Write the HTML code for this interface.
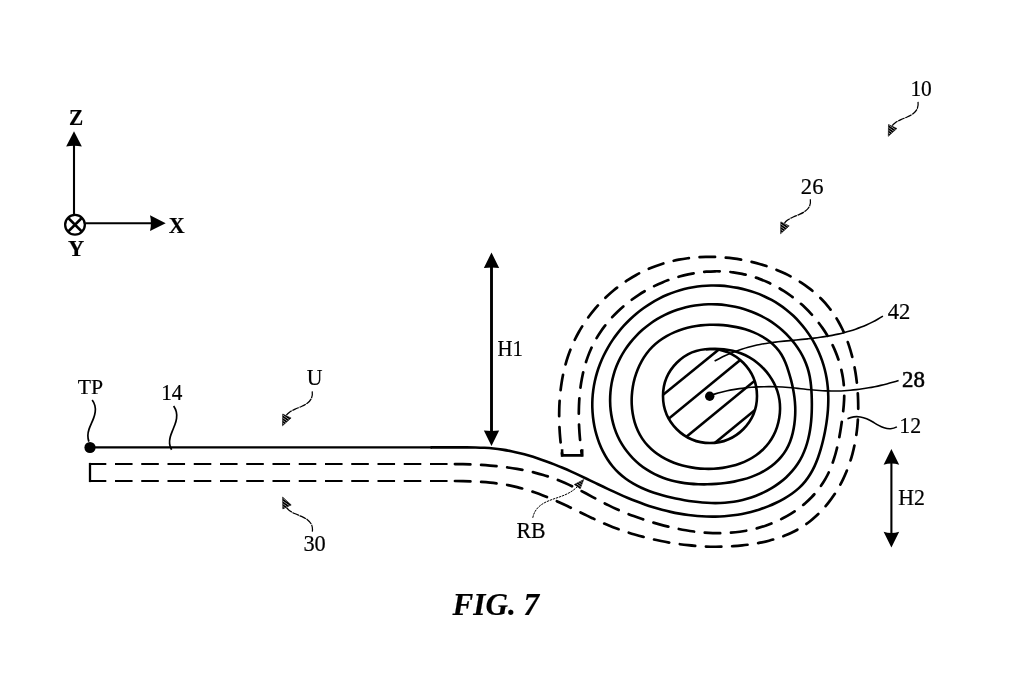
<!DOCTYPE html>
<html><head><meta charset="utf-8">
<style>
html,body{margin:0;padding:0;background:#fff;}
body{width:1017px;height:700px;overflow:hidden;}
svg{display:block;will-change:transform;}
text{font-family:"Liberation Serif",serif;fill:#000;stroke:#000;stroke-width:0.18px;}
.k{fill:none;stroke:#000;stroke-width:2.6;}
.ld{fill:none;stroke:#000;stroke-width:1.6;stroke-linecap:butt;}
.sq{fill:none;stroke:#000;stroke-width:1.5;}
.ds{fill:none;stroke:#000;stroke-width:2.05;stroke-dasharray:17.55 8.7;stroke-dashoffset:1.25;}
.dc{fill:none;stroke:#000;stroke-width:2.7;stroke-dasharray:15.45 10.75;stroke-dashoffset:-1;stroke-linecap:round;}
</style></head><body>
<svg width="1017" height="700" viewBox="0 0 1017 700">
<rect width="1017" height="700" fill="#fff"/>
<defs><clipPath id="cc"><circle cx="710" cy="396" r="47"/></clipPath>
<pattern id="ht" width="2.2" height="2.2" patternUnits="userSpaceOnUse" patternTransform="rotate(35)"><rect width="2.2" height="2.2" fill="#fff"/><rect width="2.2" height="1.75" fill="#000"/></pattern>
</defs>

<!-- axes -->
<line x1="74" y1="214" x2="74" y2="144" class="k" style="stroke-width:2.1"/>
<path d="M74.00 131.20 L81.85 146.60 Q74.00 145.00 66.15 146.60 Z" fill="#000"/>
<line x1="85.5" y1="223.25" x2="152" y2="223.25" class="k" style="stroke-width:2.1"/>
<path d="M165.70 223.20 L150.00 231.10 Q151.90 223.20 150.00 215.30 Z" fill="#000"/>
<circle cx="75" cy="224.75" r="9.85" class="k" style="stroke-width:2.3"/>
<path d="M68 217.75 L82 231.75 M82 217.75 L68 231.75" class="k" style="stroke-width:2.5"/>
<text transform="matrix(1.0395 0 0 1.0889 68.92 124.53)" style="font-size:20.5px;font-weight:bold;">Z</text>
<text transform="matrix(1.0717 0 0 1.0817 168.81 232.78)" style="font-size:20.5px;font-weight:bold;">X</text>
<text transform="matrix(1.0972 0 0 1.0889 67.91 255.78)" style="font-size:20.5px;font-weight:bold;">Y</text>
<!-- H1 -->
<line x1="491.5" y1="266" x2="491.5" y2="432" class="k" style="stroke-width:2.9"/>
<path d="M491.50 252.50 L499.15 267.90 Q491.50 267.00 483.85 267.90 Z" fill="#000"/>
<path d="M491.50 445.90 L483.85 430.50 Q491.50 431.40 499.15 430.50 Z" fill="#000"/>
<text transform="matrix(1.0148 0 0 1.0971 497.57 355.78)" style="font-size:20.5px;;">H1</text>
<!-- H2 -->
<line x1="891.4" y1="463" x2="891.4" y2="534" class="k" style="stroke-width:2.1"/>
<path d="M891.40 449.00 L899.20 464.80 Q891.40 462.40 883.60 464.80 Z" fill="#000"/>
<path d="M891.40 547.60 L883.60 531.80 Q891.40 534.20 899.20 531.80 Z" fill="#000"/>
<text transform="matrix(1.0655 0 0 1.1223 898.25 505.48)" style="font-size:20.5px;;">H2</text>
<!-- main -->
<path d="M90 447.4 L432 447.4" class="k" style="stroke-width:2.3"/>
<path d="M705.92 349.26C708.92 348.92 711.92 348.75 714.90 348.74C717.92 348.74 720.92 348.90 723.88 349.24C726.88 349.59 729.84 350.11 732.73 350.82C735.66 351.54 738.52 352.45 741.30 353.55C744.09 354.65 746.80 355.94 749.41 357.44C752.00 358.92 754.49 360.60 756.87 362.46C759.22 364.31 761.45 366.33 763.53 368.50C765.60 370.66 767.53 372.98 769.28 375.42C771.03 377.86 772.60 380.42 773.97 383.09C775.34 385.76 776.51 388.53 777.44 391.39C778.36 394.24 779.05 397.16 779.48 400.14C779.91 403.10 780.10 406.11 780.05 409.11C780.01 412.11 779.73 415.11 779.23 418.07C778.74 421.04 778.02 423.96 777.10 426.80C776.16 429.68 775.02 432.46 773.67 435.11C772.30 437.82 770.72 440.38 768.95 442.76C767.15 445.19 765.16 447.43 763.00 449.51C760.85 451.58 758.52 453.48 756.05 455.21C753.62 456.92 751.04 458.47 748.35 459.85C745.70 461.21 742.95 462.41 740.11 463.46C737.32 464.49 734.45 465.37 731.51 466.10C728.62 466.83 725.67 467.41 722.69 467.84C719.73 468.28 716.74 468.57 713.73 468.74C710.74 468.90 707.74 468.92 704.74 468.81C701.73 468.71 698.74 468.47 695.77 468.09C692.78 467.72 689.82 467.21 686.90 466.56C683.95 465.91 681.05 465.13 678.22 464.21C675.34 463.27 672.53 462.20 669.82 460.98C667.06 459.75 664.39 458.37 661.83 456.84C659.23 455.29 656.76 453.59 654.43 451.74C652.06 449.86 649.85 447.83 647.81 445.65C645.76 443.46 643.89 441.11 642.22 438.61C640.57 436.13 639.12 433.50 637.86 430.75C636.62 428.05 635.57 425.23 634.70 422.33C633.86 419.48 633.19 416.54 632.70 413.56C632.21 410.62 631.90 407.63 631.75 404.61C631.61 401.63 631.63 398.62 631.81 395.62C631.99 392.63 632.33 389.64 632.83 386.68C633.33 383.72 633.98 380.78 634.79 377.90C635.60 375.00 636.57 372.15 637.70 369.39C638.83 366.59 640.13 363.88 641.57 361.27C643.04 358.63 644.66 356.10 646.44 353.71C648.24 351.29 650.20 349.01 652.32 346.90C654.44 344.78 656.71 342.82 659.11 341.01C661.50 339.21 664.01 337.57 666.63 336.08C669.23 334.61 671.92 333.28 674.70 332.10C677.44 330.94 680.27 329.92 683.16 329.03C686.01 328.16 688.92 327.42 691.88 326.82C694.80 326.22 697.77 325.75 700.76 325.40C703.74 325.06 706.73 324.84 709.74 324.75C712.73 324.65 715.74 324.68 718.73 324.83C721.74 324.97 724.73 325.24 727.70 325.62C730.69 326.00 733.65 326.51 736.57 327.12C739.53 327.75 742.44 328.49 745.28 329.36C748.18 330.24 751.01 331.24 753.75 332.39C756.54 333.56 759.24 334.87 761.83 336.35C764.44 337.84 766.95 339.49 769.33 341.32C771.70 343.15 773.95 345.15 775.99 347.35C778.04 349.55 779.84 351.95 781.40 354.53C782.93 357.08 784.24 359.79 785.39 362.58C786.53 365.34 787.52 368.19 788.43 371.05C789.34 373.93 790.18 376.81 790.94 379.69C791.71 382.60 792.40 385.52 792.99 388.46C793.58 391.39 794.07 394.35 794.44 397.34C794.81 400.29 795.06 403.28 795.19 406.30C795.31 409.26 795.31 412.26 795.17 415.30C795.04 418.24 794.77 421.24 794.36 424.26C793.96 427.23 793.41 430.20 792.71 433.11C792.00 436.08 791.12 438.97 790.06 441.70C788.95 444.57 787.64 447.27 786.15 449.79C784.60 452.42 782.87 454.86 780.96 457.14C779.03 459.45 776.92 461.58 774.66 463.55C772.41 465.51 770.00 467.31 767.47 468.95C764.98 470.57 762.36 472.04 759.64 473.37C756.97 474.67 754.20 475.84 751.36 476.89C748.57 477.91 745.70 478.81 742.78 479.60C739.90 480.38 736.98 481.05 734.01 481.63C731.08 482.19 728.11 482.66 725.12 483.04C722.15 483.42 719.16 483.71 716.17 483.92C713.17 484.13 710.16 484.26 707.18 484.32C704.16 484.37 701.16 484.35 698.18 484.24C695.16 484.13 692.17 483.93 689.20 483.63C686.20 483.32 683.22 482.91 680.29 482.39C677.32 481.86 674.38 481.22 671.50 480.45C668.59 479.68 665.73 478.77 662.93 477.73C660.11 476.68 657.36 475.49 654.67 474.15C652.00 472.82 649.39 471.33 646.86 469.69C644.35 468.07 641.92 466.30 639.59 464.39C637.28 462.49 635.06 460.47 632.95 458.32C630.86 456.18 628.88 453.92 627.03 451.55C625.18 449.19 623.47 446.72 621.91 444.16C620.35 441.60 618.94 438.94 617.70 436.21C616.45 433.49 615.37 430.68 614.43 427.82C613.50 424.98 612.73 422.08 612.10 419.14C611.47 416.21 611.00 413.24 610.67 410.25C610.34 407.28 610.16 404.28 610.12 401.27C610.08 398.27 610.19 395.27 610.44 392.28C610.69 389.29 611.08 386.31 611.61 383.36C612.15 380.40 612.83 377.47 613.65 374.60C614.48 371.70 615.45 368.86 616.56 366.09C617.67 363.29 618.93 360.57 620.31 357.91C621.69 355.25 623.21 352.65 624.84 350.14C626.48 347.62 628.23 345.19 630.09 342.83C631.96 340.48 633.93 338.22 636.00 336.05C638.07 333.88 640.24 331.80 642.49 329.82C644.75 327.84 647.09 325.96 649.51 324.19C651.93 322.42 654.43 320.75 657.00 319.20C659.56 317.64 662.19 316.20 664.89 314.87C667.58 313.55 670.33 312.35 673.13 311.26C675.93 310.18 678.77 309.23 681.66 308.40C684.54 307.57 687.46 306.87 690.40 306.29C693.34 305.71 696.31 305.25 699.30 304.92C702.28 304.59 705.27 304.38 708.27 304.30C711.27 304.21 714.27 304.24 717.27 304.40C720.27 304.55 723.26 304.83 726.23 305.22C729.21 305.61 732.16 306.12 735.10 306.75C738.03 307.39 740.94 308.13 743.81 309.00C746.68 309.87 749.52 310.85 752.31 311.96C755.10 313.06 757.84 314.28 760.53 315.62C763.21 316.96 765.84 318.41 768.40 319.98C770.95 321.55 773.44 323.24 775.84 325.03C778.25 326.83 780.57 328.73 782.80 330.73C785.04 332.75 787.17 334.86 789.20 337.06C791.24 339.27 793.17 341.58 794.97 343.96C796.78 346.37 798.47 348.85 800.01 351.41C801.56 353.99 802.97 356.64 804.23 359.36C805.48 362.09 806.58 364.89 807.50 367.74C808.42 370.59 809.16 373.50 809.73 376.45C810.30 379.38 810.70 382.35 811.00 385.36C811.30 388.32 811.49 391.31 811.62 394.34C811.75 397.31 811.83 400.31 811.85 403.33C811.87 406.32 811.83 409.33 811.71 412.33C811.60 415.33 811.41 418.33 811.13 421.31C810.85 424.31 810.48 427.29 810.00 430.24C809.52 433.22 808.93 436.17 808.22 439.06C807.50 441.99 806.65 444.88 805.67 447.69C804.66 450.53 803.52 453.31 802.21 455.99C800.89 458.69 799.41 461.30 797.75 463.80C796.10 466.30 794.28 468.69 792.31 470.96C790.36 473.23 788.26 475.38 786.05 477.42C783.85 479.44 781.53 481.35 779.11 483.15C776.71 484.93 774.22 486.60 771.64 488.16C769.07 489.70 766.43 491.13 763.73 492.44C761.03 493.75 758.27 494.94 755.47 496.01C752.66 497.08 749.81 498.03 746.93 498.86C744.03 499.69 741.11 500.39 738.18 500.97C735.23 501.55 732.27 502.00 729.29 502.33C726.31 502.67 723.32 502.89 720.32 503.00C717.33 503.12 714.33 503.13 711.32 503.04C708.33 502.96 705.34 502.78 702.33 502.53C699.36 502.28 696.38 501.94 693.39 501.55C690.43 501.15 687.46 500.69 684.49 500.17C681.55 499.66 678.60 499.10 675.66 498.48C672.72 497.87 669.79 497.20 666.88 496.47C663.97 495.74 661.07 494.95 658.21 494.07C655.32 493.20 652.48 492.24 649.68 491.20C646.85 490.14 644.07 489.00 641.37 487.75C638.62 486.49 635.95 485.12 633.37 483.64C630.75 482.14 628.22 480.52 625.81 478.76C623.37 476.99 621.05 475.09 618.87 473.04C616.68 470.99 614.63 468.80 612.72 466.48C610.82 464.18 609.05 461.75 607.41 459.22C605.79 456.71 604.30 454.10 602.94 451.41C601.60 448.74 600.39 446.00 599.30 443.18C598.22 440.40 597.27 437.55 596.44 434.65C595.62 431.78 594.92 428.86 594.34 425.90C593.76 422.96 593.31 419.99 592.98 417.01C592.65 414.03 592.43 411.03 592.34 408.03C592.25 405.03 592.28 402.02 592.43 399.04C592.59 396.03 592.86 393.04 593.26 390.08C593.66 387.09 594.18 384.14 594.82 381.21C595.45 378.28 596.21 375.37 597.08 372.50C597.95 369.63 598.93 366.79 600.02 364.00C601.10 361.20 602.30 358.45 603.60 355.74C604.89 353.04 606.29 350.38 607.78 347.78C609.28 345.18 610.86 342.63 612.54 340.14C614.22 337.66 615.99 335.23 617.84 332.87C619.69 330.51 621.63 328.21 623.64 325.99C625.66 323.77 627.75 321.62 629.91 319.54C632.08 317.46 634.32 315.46 636.63 313.55C638.93 311.63 641.31 309.79 643.75 308.04C646.18 306.30 648.69 304.63 651.24 303.07C653.80 301.50 656.42 300.02 659.08 298.65C661.75 297.27 664.46 296.00 667.23 294.82C669.99 293.65 672.79 292.59 675.64 291.63C678.48 290.68 681.36 289.83 684.27 289.10C687.18 288.37 690.12 287.75 693.08 287.25C696.03 286.74 699.01 286.35 702.00 286.06C704.98 285.78 707.98 285.60 710.98 285.53C713.98 285.47 716.98 285.51 719.98 285.66C722.98 285.81 725.97 286.07 728.94 286.43C731.92 286.80 734.89 287.27 737.83 287.85C740.78 288.43 743.70 289.11 746.59 289.91C749.49 290.70 752.35 291.60 755.17 292.61C758.00 293.62 760.79 294.74 763.52 295.97C766.26 297.19 768.95 298.53 771.58 299.97C774.21 301.41 776.78 302.96 779.28 304.62C781.79 306.27 784.22 308.03 786.57 309.90C788.91 311.77 791.18 313.74 793.36 315.80C795.53 317.86 797.62 320.02 799.62 322.26C801.62 324.49 803.53 326.81 805.34 329.21C807.15 331.60 808.86 334.07 810.48 336.60C812.09 339.13 813.60 341.72 815.01 344.37C816.42 347.02 817.73 349.72 818.92 352.47C820.12 355.22 821.21 358.02 822.18 360.86C823.15 363.70 824.01 366.58 824.75 369.48C825.50 372.39 826.11 375.33 826.62 378.28C827.12 381.24 827.50 384.22 827.77 387.21C828.05 390.19 828.21 393.19 828.28 396.19C828.34 399.18 828.31 402.18 828.18 405.19C828.06 408.18 827.85 411.17 827.55 414.17C827.26 417.15 826.88 420.12 826.44 423.10C825.99 426.06 825.48 429.02 824.90 431.96C824.32 434.91 823.68 437.84 822.98 440.76C822.28 443.68 821.52 446.59 820.69 449.46C819.84 452.35 818.92 455.21 817.90 458.01C816.86 460.85 815.72 463.63 814.46 466.33C813.18 469.06 811.77 471.71 810.21 474.26C808.64 476.82 806.92 479.27 805.02 481.60C803.14 483.91 801.08 486.09 798.84 488.13C796.64 490.13 794.28 491.99 791.80 493.73C789.36 495.45 786.81 497.06 784.21 498.56C781.59 500.06 778.94 501.46 776.25 502.76C773.54 504.07 770.79 505.28 768.02 506.40C765.23 507.52 762.41 508.54 759.56 509.47C756.70 510.40 753.82 511.23 750.92 511.97C748.01 512.71 745.08 513.36 742.13 513.92C739.19 514.48 736.22 514.95 733.24 515.33C730.27 515.71 727.28 516.00 724.29 516.21C721.30 516.43 718.30 516.55 715.30 516.60C712.30 516.65 709.30 516.62 706.30 516.52C703.30 516.41 700.31 516.23 697.32 515.98C694.33 515.73 691.35 515.40 688.37 515.01C685.40 514.62 682.43 514.16 679.47 513.64C676.52 513.11 673.58 512.53 670.65 511.88C667.72 511.23 664.80 510.52 661.90 509.75C659.00 508.98 656.12 508.15 653.25 507.26C650.38 506.37 647.53 505.43 644.71 504.44C641.88 503.44 639.06 502.40 636.27 501.31C633.47 500.22 630.69 499.09 627.93 497.93C625.17 496.76 622.41 495.57 619.67 494.34C616.94 493.12 614.21 491.87 611.49 490.61C608.77 489.34 606.05 488.06 603.34 486.77C600.64 485.48 597.93 484.19 595.23 482.89C592.52 481.59 589.82 480.29 587.11 479.00C584.40 477.71 581.69 476.42 578.97 475.15C576.25 473.88 573.53 472.63 570.79 471.40C568.06 470.17 565.31 468.97 562.55 467.79C559.79 466.62 557.01 465.48 554.22 464.37C551.43 463.26 548.63 462.19 545.81 461.17C542.99 460.14 540.16 459.15 537.31 458.21C534.46 457.27 531.59 456.38 528.72 455.54C525.83 454.70 522.94 453.92 520.03 453.20C517.11 452.47 514.19 451.80 511.25 451.21C508.31 450.61 505.36 450.07 502.39 449.61C499.43 449.15 496.45 448.76 493.47 448.45C490.49 448.14 487.50 447.92 484.50 447.76C481.50 447.60 478.51 447.51 475.50 447.45C472.50 447.40 469.50 447.38 466.50 447.38C463.50 447.38 460.50 447.39 457.50 447.40C454.50 447.41 451.50 447.41 448.50 447.41C445.50 447.41 442.50 447.41 439.50 447.41C436.50 447.41 433.50 447.41 430.50 447.40" class="k"/>
<circle cx="90" cy="447.5" r="5.6" fill="#000"/>
<path d="M90 464 L452 464" class="ds"/>
<path d="M90 481 L452 481" class="ds"/>
<path d="M453.92 464.02C456.93 464.05 459.94 464.11 462.95 464.18C465.97 464.25 468.98 464.35 471.99 464.47C475.00 464.59 478.01 464.73 481.01 464.91C484.02 465.08 487.03 465.29 490.03 465.54C493.04 465.78 496.03 466.06 499.03 466.38C502.03 466.70 505.02 467.07 508.00 467.48C510.98 467.89 513.96 468.34 516.93 468.85C519.90 469.36 522.86 469.92 525.81 470.54C528.75 471.16 531.69 471.84 534.61 472.57C537.53 473.31 540.43 474.11 543.32 474.98C546.20 475.84 549.07 476.77 551.92 477.77C554.75 478.77 557.56 479.84 560.36 480.98C563.14 482.12 565.90 483.33 568.64 484.62C571.36 485.89 574.06 487.22 576.75 488.59C579.43 489.96 582.10 491.36 584.76 492.78C587.42 494.20 590.07 495.64 592.72 497.07C595.38 498.50 598.03 499.92 600.69 501.32C603.37 502.72 606.06 504.10 608.75 505.41C611.47 506.75 614.19 508.02 616.93 509.25C619.69 510.48 622.46 511.66 625.24 512.79C628.03 513.93 630.84 515.02 633.67 516.06C636.49 517.11 639.33 518.11 642.19 519.07C645.04 520.02 647.90 520.94 650.79 521.83C653.66 522.71 656.56 523.55 659.47 524.36C662.37 525.15 665.28 525.91 668.22 526.63C671.14 527.34 674.08 528.00 677.03 528.62C679.98 529.23 682.94 529.79 685.91 530.29C688.88 530.80 691.86 531.24 694.85 531.62C697.84 532.00 700.84 532.32 703.84 532.57C706.84 532.82 709.85 532.99 712.86 533.09C715.87 533.19 718.89 533.22 721.90 533.16C724.91 533.10 727.92 532.96 730.92 532.72C733.92 532.49 736.92 532.17 739.90 531.75C742.89 531.33 745.86 530.81 748.81 530.20C751.76 529.59 754.69 528.89 757.59 528.09C760.50 527.29 763.38 526.39 766.22 525.40C769.07 524.41 771.88 523.32 774.65 522.14C777.42 520.95 780.15 519.67 782.82 518.29C785.51 516.91 788.14 515.43 790.69 513.86C793.27 512.28 795.77 510.60 798.20 508.83C800.64 507.04 803.00 505.17 805.26 503.20C807.54 501.22 809.73 499.14 811.81 496.97C813.90 494.80 815.88 492.53 817.76 490.17C819.63 487.81 821.38 485.37 823.01 482.82C824.64 480.30 826.14 477.69 827.51 474.99C828.86 472.32 830.09 469.57 831.20 466.74C832.31 463.97 833.30 461.12 834.21 458.22C835.10 455.37 835.91 452.46 836.64 449.52C837.37 446.61 838.02 443.67 838.62 440.70C839.22 437.76 839.76 434.79 840.26 431.82C840.76 428.85 841.21 425.86 841.64 422.89C842.07 419.89 842.48 416.91 842.85 413.93C843.23 410.92 843.55 407.93 843.79 404.94C844.04 401.92 844.20 398.91 844.23 395.92C844.27 392.89 844.18 389.88 843.96 386.89C843.74 383.87 843.40 380.88 842.93 377.91C842.46 374.93 841.87 371.97 841.17 369.05C840.46 366.12 839.64 363.22 838.71 360.36C837.78 357.49 836.73 354.66 835.58 351.88C834.43 349.10 833.18 346.36 831.83 343.66C830.48 340.97 829.03 338.33 827.48 335.74C825.94 333.15 824.31 330.62 822.59 328.14C820.88 325.67 819.07 323.25 817.19 320.90C815.31 318.55 813.35 316.26 811.31 314.04C809.28 311.82 807.17 309.66 804.99 307.58C802.81 305.50 800.56 303.49 798.25 301.56C795.94 299.62 793.57 297.77 791.14 295.99C788.70 294.21 786.21 292.52 783.67 290.91C781.12 289.30 778.52 287.77 775.87 286.34C773.22 284.91 770.52 283.56 767.78 282.32C765.04 281.07 762.25 279.92 759.43 278.87C756.60 277.82 753.74 276.87 750.85 276.03C747.96 275.19 745.03 274.46 742.08 273.84C739.14 273.22 736.17 272.72 733.18 272.33C730.19 271.93 727.19 271.65 724.18 271.48C721.18 271.31 718.16 271.24 715.15 271.28C712.14 271.32 709.13 271.47 706.12 271.71C703.12 271.95 700.13 272.30 697.15 272.74C694.17 273.18 691.20 273.71 688.25 274.34C685.31 274.97 682.38 275.69 679.48 276.51C676.58 277.32 673.70 278.22 670.86 279.20C668.01 280.19 665.19 281.26 662.41 282.42C659.63 283.58 656.88 284.82 654.18 286.14C651.47 287.47 648.80 288.87 646.19 290.36C643.56 291.84 640.99 293.41 638.46 295.05C635.94 296.70 633.46 298.42 631.05 300.22C628.63 302.02 626.27 303.89 623.98 305.84C621.68 307.79 619.44 309.82 617.29 311.91C615.12 314.02 613.03 316.19 611.02 318.43C609.01 320.67 607.07 322.98 605.23 325.36C603.38 327.74 601.62 330.19 599.96 332.70C598.29 335.21 596.72 337.78 595.26 340.41C593.79 343.04 592.43 345.73 591.18 348.48C589.93 351.21 588.79 354.00 587.76 356.84C586.73 359.66 585.81 362.53 584.98 365.44C584.15 368.32 583.42 371.25 582.78 374.20C582.14 377.14 581.59 380.10 581.12 383.08C580.65 386.05 580.26 389.04 579.94 392.04C579.62 395.04 579.38 398.04 579.20 401.05C579.02 404.06 578.91 407.07 578.85 410.08C578.80 413.10 578.81 416.11 578.86 419.11C578.92 422.14 579.04 425.16 579.20 428.14C579.36 431.18 579.58 434.19 579.83 437.16C580.09 440.20 580.39 443.20 580.73 446.15C581.08 449.19 581.47 452.18 581.88 455.12" class="dc"/>
<path d="M453.96 481.00C456.98 481.03 460.00 481.07 463.03 481.14C466.05 481.21 469.07 481.30 472.10 481.43C475.12 481.55 478.14 481.70 481.16 481.89C484.18 482.09 487.19 482.32 490.20 482.62C493.21 482.91 496.22 483.26 499.21 483.67C502.21 484.09 505.20 484.58 508.16 485.14C511.13 485.71 514.09 486.36 517.02 487.09C519.96 487.81 522.87 488.61 525.77 489.48C528.67 490.34 531.55 491.27 534.41 492.26C537.26 493.25 540.10 494.29 542.92 495.39C545.74 496.48 548.54 497.63 551.33 498.81C554.11 499.99 556.87 501.22 559.62 502.48C562.37 503.73 565.11 505.02 567.84 506.33C570.57 507.63 573.29 508.95 576.01 510.28C578.72 511.60 581.44 512.93 584.16 514.25C586.88 515.57 589.61 516.88 592.34 518.17C595.08 519.46 597.83 520.73 600.59 521.95C603.35 523.18 606.13 524.37 608.93 525.51C611.73 526.66 614.56 527.75 617.40 528.79C620.23 529.83 623.09 530.82 625.96 531.77C628.84 532.72 631.72 533.62 634.62 534.47C637.52 535.33 640.44 536.14 643.36 536.91C646.29 537.68 649.22 538.40 652.17 539.09C655.12 539.77 658.07 540.42 661.03 541.02C664.00 541.62 666.97 542.18 669.95 542.69C672.93 543.20 675.92 543.67 678.91 544.09C681.91 544.51 684.91 544.88 687.92 545.20C690.92 545.52 693.93 545.80 696.95 546.02C699.97 546.24 702.98 546.42 706.01 546.54C709.03 546.66 712.05 546.72 715.08 546.74C718.10 546.75 721.12 546.71 724.15 546.61C727.17 546.52 730.19 546.37 733.21 546.16C736.22 545.96 739.23 545.70 742.25 545.38C745.25 545.06 748.26 544.68 751.25 544.24C754.24 543.79 757.23 543.28 760.19 542.69C763.16 542.10 766.12 541.44 769.04 540.69C771.98 539.93 774.88 539.09 777.75 538.16C780.63 537.21 783.48 536.17 786.26 535.03C789.07 533.88 791.82 532.61 794.50 531.24C797.20 529.85 799.82 528.35 802.36 526.72C804.91 525.09 807.38 523.34 809.77 521.48C812.15 519.62 814.45 517.66 816.66 515.59C818.87 513.53 821.00 511.38 823.03 509.14C825.07 506.90 827.01 504.59 828.87 502.19C830.72 499.81 832.49 497.35 834.17 494.83C835.84 492.31 837.43 489.74 838.92 487.11C840.42 484.48 841.82 481.80 843.14 479.07C844.45 476.35 845.68 473.58 846.81 470.78C847.94 467.97 848.98 465.13 849.93 462.26C850.89 459.39 851.75 456.50 852.53 453.57C853.30 450.65 853.99 447.71 854.60 444.74C855.21 441.78 855.74 438.81 856.18 435.81C856.63 432.82 857.00 429.82 857.30 426.80C857.59 423.80 857.82 420.79 857.97 417.76C858.12 414.75 858.21 411.72 858.23 408.69C858.25 405.67 858.20 402.65 858.09 399.62C857.99 396.60 857.82 393.58 857.60 390.56C857.37 387.55 857.08 384.53 856.73 381.53C856.38 378.52 855.97 375.53 855.48 372.54C855.00 369.55 854.45 366.58 853.82 363.63C853.19 360.66 852.49 357.71 851.72 354.80C850.94 351.87 850.08 348.97 849.14 346.10C848.20 343.22 847.17 340.37 846.06 337.57C844.94 334.75 843.73 331.98 842.43 329.26C841.12 326.52 839.72 323.84 838.22 321.22C836.72 318.59 835.11 316.03 833.40 313.54C831.69 311.04 829.87 308.62 827.96 306.29C826.04 303.95 824.02 301.70 821.90 299.54C819.80 297.37 817.60 295.29 815.32 293.30C813.05 291.31 810.70 289.41 808.27 287.59C805.86 285.78 803.38 284.05 800.83 282.40C798.30 280.77 795.70 279.21 793.05 277.73C790.42 276.27 787.73 274.88 784.99 273.57C782.28 272.26 779.51 271.04 776.70 269.89C773.91 268.74 771.08 267.68 768.22 266.68C765.36 265.69 762.48 264.78 759.57 263.94C756.67 263.10 753.74 262.34 750.79 261.65C747.85 260.96 744.89 260.34 741.91 259.80C738.93 259.25 735.95 258.78 732.95 258.39C729.95 257.99 726.94 257.67 723.93 257.42C720.91 257.17 717.89 257.00 714.87 256.91C711.85 256.82 708.82 256.80 705.80 256.87C702.77 256.93 699.75 257.08 696.74 257.31C693.72 257.54 690.71 257.85 687.72 258.24C684.72 258.64 681.73 259.12 678.76 259.69C675.79 260.26 672.84 260.92 669.91 261.66C666.98 262.41 664.07 263.24 661.19 264.17C658.31 265.10 655.46 266.11 652.65 267.22C649.84 268.33 647.06 269.53 644.32 270.82C641.59 272.11 638.90 273.49 636.25 274.96C633.60 276.42 631.00 277.96 628.45 279.59C625.90 281.22 623.41 282.92 620.96 284.71C618.52 286.49 616.13 288.34 613.80 290.27C611.47 292.19 609.19 294.19 606.98 296.26C604.77 298.32 602.62 300.45 600.54 302.64C598.46 304.84 596.44 307.09 594.50 309.41C592.55 311.72 590.68 314.10 588.87 316.53C587.07 318.96 585.34 321.44 583.69 323.97C582.04 326.51 580.47 329.09 578.98 331.73C577.49 334.36 576.09 337.04 574.77 339.76C573.45 342.48 572.22 345.24 571.08 348.04C569.94 350.84 568.89 353.68 567.93 356.55C566.97 359.42 566.10 362.31 565.32 365.24C564.53 368.15 563.83 371.10 563.21 374.06C562.59 377.02 562.04 379.99 561.57 382.98C561.11 385.97 560.71 388.97 560.39 391.98C560.06 394.98 559.80 398.00 559.61 401.02C559.42 404.03 559.29 407.06 559.23 410.08C559.16 413.11 559.15 416.13 559.20 419.15C559.25 422.18 559.35 425.21 559.51 428.22C559.67 431.25 559.88 434.27 560.14 437.27C560.40 440.30 560.71 443.31 561.07 446.29C561.43 449.32 561.84 452.32 562.28 455.28" class="dc"/>
<path d="M90 462.9 L90 482.1" class="k" style="stroke-width:2.3"/>
<path d="M562.1 449.2 L562.1 455.4 L582.2 455.4 L582.2 449.2" class="k"/>
<!-- core circle -->
<circle cx="710" cy="396" r="47" class="k"/>
<g clip-path="url(#cc)" class="k">
<line x1="655" y1="401.4" x2="725" y2="344.5"/>
<line x1="655" y1="429.9" x2="765" y2="339.7"/>
<line x1="655" y1="462.5" x2="775" y2="364.1"/>
<line x1="700" y1="455.1" x2="775" y2="393.6"/>
</g>
<circle cx="709.7" cy="396.2" r="4.7" fill="#000"/>
<path d="M882.92 316.15C881.20 317.23 879.46 318.26 877.70 319.24C875.93 320.24 874.15 321.18 872.35 322.09C870.54 323.00 868.71 323.86 866.87 324.69C865.02 325.52 863.16 326.30 861.28 327.05C859.40 327.79 857.51 328.50 855.60 329.16C853.69 329.83 851.77 330.46 849.83 331.05C847.90 331.63 845.95 332.18 844.00 332.70C842.04 333.21 840.08 333.68 838.11 334.13C836.13 334.57 834.15 334.97 832.17 335.35C830.18 335.73 828.19 336.08 826.20 336.41C824.20 336.73 822.20 337.04 820.20 337.32C818.20 337.60 816.20 337.86 814.19 338.10C812.18 338.35 810.17 338.58 808.16 338.80C806.15 339.01 804.14 339.22 802.13 339.42C800.12 339.62 798.11 339.82 796.09 340.01C794.08 340.20 792.07 340.39 790.06 340.58C788.04 340.77 786.03 340.97 784.02 341.17C782.01 341.38 780.00 341.59 777.99 341.82C775.98 342.05 773.98 342.30 771.97 342.56C769.97 342.83 767.97 343.12 765.97 343.44C763.98 343.76 761.99 344.11 760.00 344.49C758.02 344.87 756.04 345.29 754.07 345.75C752.10 346.20 750.14 346.70 748.19 347.24C746.25 347.78 744.31 348.35 742.38 348.97C740.46 349.59 738.55 350.24 736.64 350.94C734.75 351.63 732.86 352.36 730.99 353.13C729.12 353.90 727.27 354.70 725.43 355.54C723.60 356.38 721.77 357.26 719.97 358.18C718.17 359.09 716.38 360.03 714.61 361.02" class="ld"/>
<path d="M898.60 380.52C896.64 381.14 894.66 381.73 892.68 382.29C890.71 382.85 888.72 383.39 886.72 383.91C884.73 384.42 882.73 384.91 880.73 385.37C878.72 385.84 876.71 386.27 874.69 386.68C872.68 387.09 870.65 387.48 868.62 387.83C866.60 388.19 864.57 388.51 862.53 388.81C860.49 389.11 858.45 389.38 856.41 389.62C854.36 389.86 852.31 390.07 850.26 390.25C848.21 390.43 846.16 390.57 844.11 390.69C842.05 390.81 839.99 390.89 837.94 390.94C835.88 390.99 833.82 391.01 831.76 390.99C829.70 390.98 827.65 390.93 825.59 390.85C823.53 390.76 821.48 390.65 819.42 390.51C817.37 390.37 815.32 390.21 813.27 390.03C811.22 389.85 809.17 389.64 807.12 389.43C805.08 389.21 803.03 388.98 800.99 388.75C798.94 388.52 796.90 388.29 794.85 388.07C792.80 387.85 790.75 387.65 788.70 387.47C786.65 387.30 784.60 387.15 782.54 387.03C780.49 386.91 778.43 386.81 776.38 386.75C774.32 386.68 772.26 386.64 770.20 386.63C768.15 386.62 766.09 386.63 764.03 386.68C761.97 386.72 759.91 386.80 757.86 386.90C755.80 387.01 753.75 387.14 751.70 387.31C749.65 387.47 747.60 387.66 745.55 387.89C743.50 388.12 741.46 388.37 739.42 388.66C737.39 388.95 735.35 389.27 733.32 389.62C731.30 389.97 729.27 390.35 727.26 390.77C725.24 391.19 723.23 391.65 721.24 392.16C719.25 392.68 717.27 393.24 715.31 393.87C713.35 394.50 711.41 395.19 709.50 395.96" class="ld"/>
<path d="M896.90 426.86C894.72 428.00 892.64 428.58 890.64 428.73C888.39 428.90 886.25 428.54 884.15 427.85C882.12 427.18 880.14 426.21 878.17 425.11C876.28 424.06 874.40 422.89 872.49 421.78C870.57 420.66 868.64 419.60 866.64 418.76C864.59 417.90 862.49 417.27 860.33 416.93C858.19 416.60 856.00 416.55 853.77 416.86C851.70 417.15 849.60 417.74 847.47 418.68" class="ld"/>
<path d="M92.15 400.07C93.55 401.87 94.42 403.73 94.90 405.62C95.42 407.66 95.47 409.74 95.21 411.81C94.95 413.84 94.40 415.86 93.69 417.85C93.00 419.80 92.15 421.71 91.31 423.61C90.45 425.53 89.62 427.44 88.98 429.39C88.34 431.37 87.91 433.39 87.88 435.50C87.86 437.48 88.17 439.53 88.87 441.63" class="ld" style="stroke-width:1.7"/>
<path d="M173.63 405.93C174.99 407.87 175.85 409.87 176.32 411.89C176.82 414.06 176.86 416.26 176.56 418.43C176.27 420.57 175.63 422.68 174.86 424.77C174.11 426.81 173.23 428.84 172.40 430.87C171.56 432.93 170.77 434.99 170.23 437.08C169.68 439.23 169.39 441.40 169.59 443.59C169.78 445.64 170.39 447.70 171.61 449.80" class="ld" style="stroke-width:1.7"/>
<text transform="matrix(1.0462 0 0 1.0777 910.38 95.65)" style="font-size:20.5px;;">10</text>
<text transform="matrix(1.1031 0 0 1.0873 800.86 193.65)" style="font-size:20.5px;;">26</text>
<text transform="matrix(1.1031 0 0 1.1007 887.71 318.68)" style="font-size:20.5px;;">42</text>
<text transform="matrix(1.0652 0 0 1.1079 899.25 432.88)" style="font-size:20.5px;;">12</text>
<text transform="matrix(1.0626 0 0 1.0599 77.71 394.09)" style="font-size:20.5px;;">TP</text>
<text transform="matrix(1.036 0 0 1.1007 161.14 400.08)" style="font-size:20.5px;;">14</text>
<text transform="matrix(1.0625 0 0 1.1007 306.81 385.14)" style="font-size:20.5px;;">U</text>
<text transform="matrix(1.0914 0 0 1.0954 303.43 551.24)" style="font-size:20.5px;;">30</text>
<text transform="matrix(1.0631 0 0 1.0889 516.55 538.38)" style="font-size:20.5px;;">RB</text>
<text transform="matrix(1.1154 0 0 1.0954 902.05 386.64)" style="font-size:20.5px;;stroke-width:0.5px">28</text>
<path d="M918.04 101.85C918.39 104.51 918.09 106.70 917.34 108.53C916.46 110.67 914.95 112.33 913.09 113.70C911.34 114.99 909.29 116.02 907.15 116.96C905.10 117.87 902.96 118.70 900.91 119.62C898.79 120.58 896.77 121.63 895.01 122.96C893.22 124.32 891.72 125.97 890.70 128.11" class="sq" style="stroke-width:1.25;stroke-dasharray:7 0.7"/><path d="M888.5 124.5 L896.9 128.5 L888.3 136.3 Z" fill="url(#ht)" stroke="#000" stroke-width="0.6"/>
<path d="M810.34 199.25C810.69 201.91 810.39 204.10 809.64 205.93C808.76 208.07 807.25 209.73 805.39 211.10C803.64 212.39 801.59 213.42 799.45 214.36C797.40 215.27 795.26 216.10 793.21 217.02C791.09 217.98 789.07 219.03 787.31 220.36C785.52 221.72 784.02 223.37 783.00 225.51" class="sq" style="stroke-width:1.25;stroke-dasharray:7 0.7"/><path d="M780.8 221.9 L789.2 225.9 L780.6 233.7 Z" fill="url(#ht)" stroke="#000" stroke-width="0.6"/>
<path d="M312.24 391.35C312.59 394.01 312.29 396.20 311.54 398.03C310.66 400.17 309.15 401.83 307.29 403.20C305.54 404.49 303.49 405.52 301.35 406.46C299.30 407.37 297.16 408.20 295.11 409.12C292.99 410.08 290.97 411.13 289.21 412.46C287.42 413.82 285.92 415.47 284.90 417.61" class="sq" style="stroke-width:1.25;stroke-dasharray:7 0.7"/><path d="M282.7 414.0 L291.1 418.0 L282.5 425.8 Z" fill="url(#ht)" stroke="#000" stroke-width="0.6"/>
<path d="M312.34 531.55C312.69 528.89 312.39 526.70 311.64 524.87C310.76 522.73 309.25 521.07 307.39 519.70C305.64 518.41 303.59 517.38 301.45 516.44C299.40 515.53 297.26 514.70 295.21 513.78C293.09 512.82 291.07 511.77 289.31 510.44C287.52 509.08 286.02 507.43 285.00 505.29" class="sq" style="stroke-width:1.25;stroke-dasharray:7 0.7"/><path d="M282.8 508.9 L291.2 504.9 L282.6 497.1 Z" fill="url(#ht)" stroke="#000" stroke-width="0.6"/>
<path d="M532.76 517.80C533.20 515.58 533.91 513.62 534.85 511.88C535.88 509.97 537.17 508.33 538.67 506.90C540.18 505.46 541.90 504.24 543.74 503.19C545.53 502.16 547.45 501.29 549.43 500.51C551.37 499.74 553.36 499.05 555.36 498.38C557.36 497.70 559.36 497.04 561.32 496.32C563.31 495.58 565.26 494.78 567.12 493.87C569.02 492.94 570.84 491.89 572.56 490.70C574.28 489.52 575.90 488.19 577.40 486.68C578.84 485.24 580.18 483.63 581.40 481.82" class="sq" style="stroke-width:1.0;stroke-dasharray:2.4 0.8"/><path d="M574.3 484.5 L580.2 488.8 L583.7 479.6 Z" fill="url(#ht)" stroke="#000" stroke-width="0.6"/>
<!-- caption -->
<text transform="matrix(1.0369 0 0 1.046 452.61 614.8000000000001)" style="font-size:20.5px;font-weight:bold;font-style:italic;font-size:30px;">FIG. 7</text>
</svg>
</body></html>
